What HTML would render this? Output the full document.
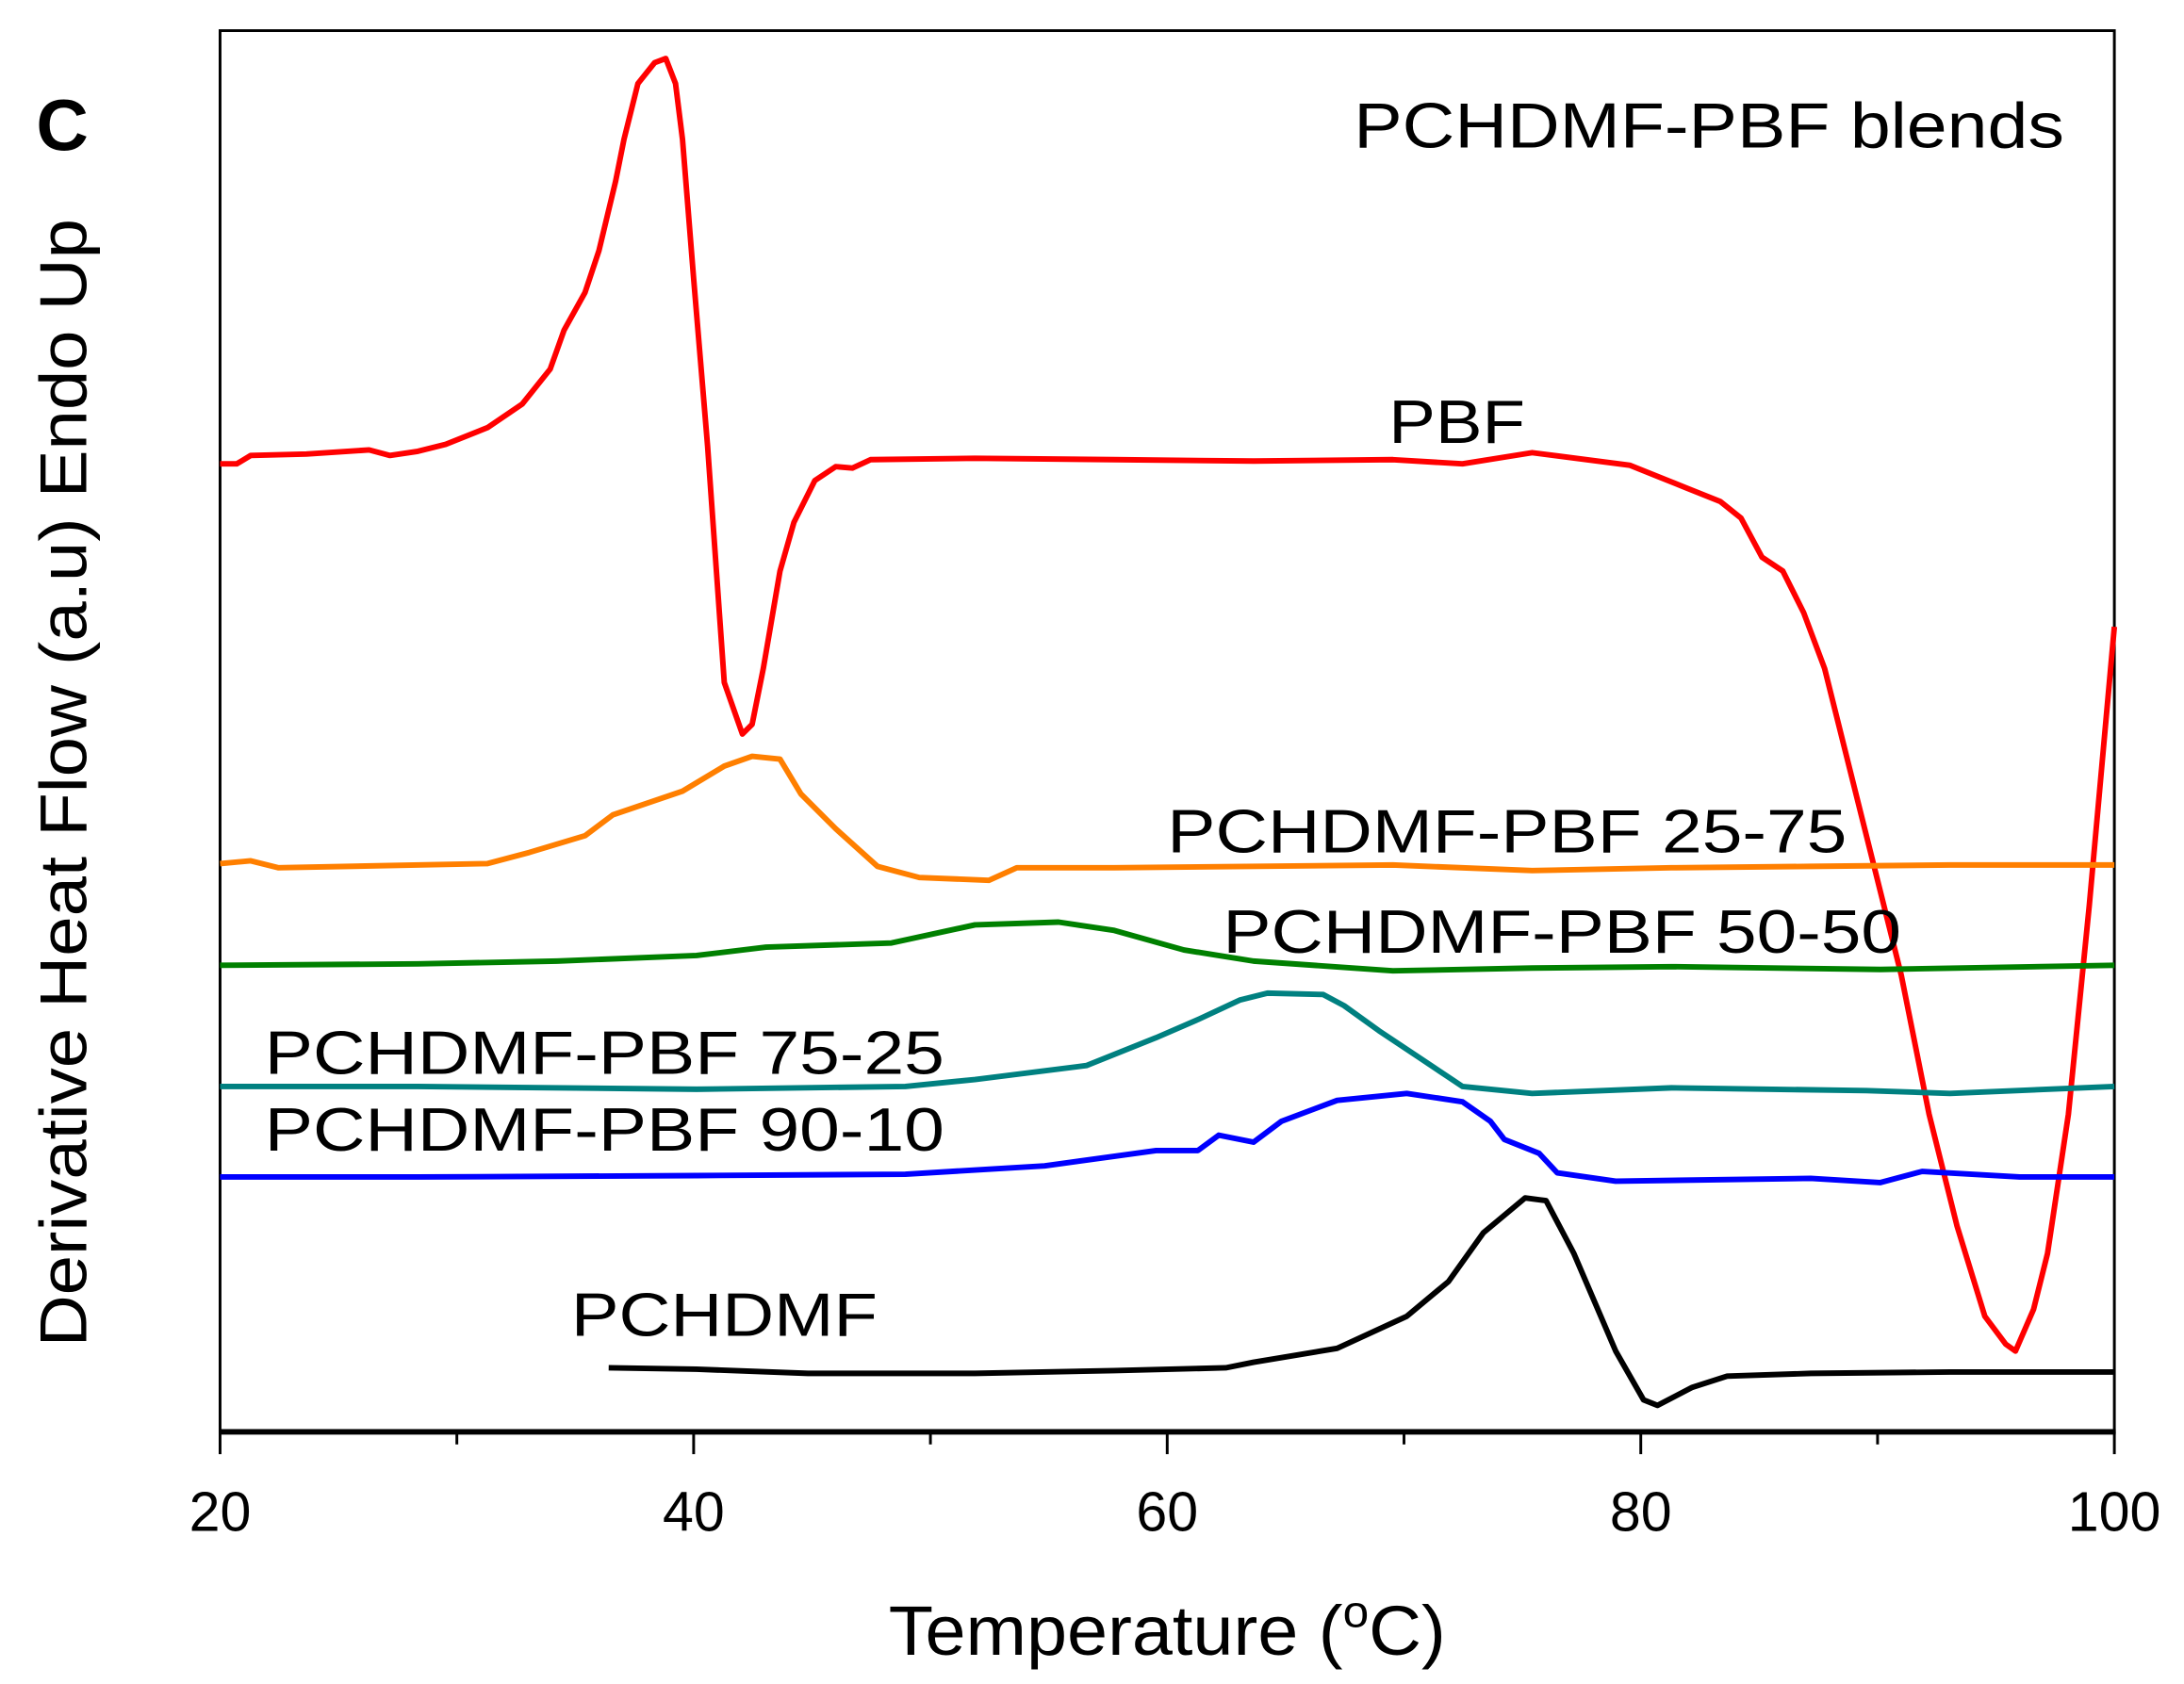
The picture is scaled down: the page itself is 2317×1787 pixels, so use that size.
<!DOCTYPE html>
<html><head><style>html,body{margin:0;padding:0;background:#fff}svg{display:block}</style></head>
<body>
<svg width="2317" height="1787" viewBox="0 0 1568 1209" preserveAspectRatio="none" xmlns="http://www.w3.org/2000/svg" font-family="Liberation Sans, Arial, sans-serif">
<rect x="158" y="22" width="1360" height="1006" fill="none" stroke="#000" stroke-width="2"/>
<line x1="157" y1="1028" x2="1519" y2="1028" stroke="#000" stroke-width="4"/>
<g stroke="#000" stroke-width="2">
<line x1="158" y1="1028" x2="158" y2="1044"/><line x1="328" y1="1028" x2="328" y2="1037"/>
<line x1="498" y1="1028" x2="498" y2="1044"/><line x1="668" y1="1028" x2="668" y2="1037"/>
<line x1="838" y1="1028" x2="838" y2="1044"/><line x1="1008" y1="1028" x2="1008" y2="1037"/>
<line x1="1178" y1="1028" x2="1178" y2="1044"/><line x1="1348" y1="1028" x2="1348" y2="1037"/>
<line x1="1518" y1="1028" x2="1518" y2="1044"/>
</g>
<g font-size="40" text-anchor="middle">
<text x="158" y="1099">20</text><text x="498" y="1099">40</text><text x="838" y="1099">60</text><text x="1178" y="1099">80</text><text x="1518" y="1099">100</text>
</g>
<text x="638" y="1188" font-size="50" textLength="400" lengthAdjust="spacingAndGlyphs">Temperature (<tspan font-size="32" dy="-20">o</tspan><tspan dy="20">C)</tspan></text>
<text transform="translate(62,562) rotate(-90)" font-size="48" text-anchor="middle" textLength="810" lengthAdjust="spacingAndGlyphs">Derivative Heat Flow (a.u) Endo Up</text>
<text x="26" y="108" font-size="52" font-weight="bold">C</text>
<text x="972" y="106" font-size="46" textLength="510" lengthAdjust="spacingAndGlyphs">PCHDMF-PBF blends</text>
<g fill="none" stroke-width="4" stroke-linejoin="round">
<polyline stroke="#ff0000" points="158,333 170,333 180,327 220,326 265,323 280,327 300,324 320,319 350,307 375,290 395,265 405,237 420,210 430,180 442,130 448,100 458,60 470,45 478,42 485,60 490,100 498,200 508,320 520,490 533,527 540,520 548,480 560,410 570,375 585,345 600,335 612,336 625,330 700,329 800,330 900,331 1000,330 1050,333 1100,325 1170,334 1210,350 1235,360 1250,372 1265,400 1280,410 1295,440 1310,480 1325,540 1345,620 1365,700 1385,800 1405,880 1425,945 1440,965 1447,970 1460,940 1470,900 1485,800 1500,650 1518,450"/>
<polyline stroke="#ff7f00" points="158,620 180,618 200,623 350,620 380,612 420,600 440,585 490,568 520,550 540,543 560,545 575,570 600,595 630,622 660,630 710,632 730,623 800,623 1000,621 1100,625 1200,623 1300,622 1400,621 1518,621"/>
<polyline stroke="#008000" points="158,693 300,692 400,690 500,686 550,680 640,677 700,664 760,662 800,668 850,682 900,690 1000,697 1100,695 1200,694 1350,696 1518,693"/>
<polyline stroke="#008080" points="158,780 300,780 500,782 650,780 700,775 780,765 830,745 860,732 890,718 910,713 950,714 965,722 990,740 1020,760 1050,780 1100,785 1200,781 1340,783 1400,785 1518,780"/>
<polyline stroke="#0000ff" points="158,845 300,845 500,844 650,843 750,837 830,826 860,826 875,815 900,820 920,805 960,790 1010,785 1050,791 1070,805 1080,818 1105,828 1118,842 1160,848 1300,846 1350,849 1380,841 1450,845 1518,845"/>
<polyline stroke="#000000" points="437,982 500,983 580,986 700,986 800,984 880,982 900,978 960,968 1010,945 1040,920 1065,885 1095,860 1110,862 1130,900 1160,970 1180,1005 1190,1009 1215,996 1240,988 1300,986 1400,985 1518,985"/>
</g>
<g font-size="44">
<text x="997" y="318" textLength="98" lengthAdjust="spacingAndGlyphs">PBF</text>
<text x="838" y="612" textLength="488" lengthAdjust="spacingAndGlyphs">PCHDMF-PBF 25-75</text>
<text x="878" y="684" textLength="487" lengthAdjust="spacingAndGlyphs">PCHDMF-PBF 50-50</text>
<text x="190" y="771" textLength="488" lengthAdjust="spacingAndGlyphs">PCHDMF-PBF 75-25</text>
<text x="190" y="826" textLength="488" lengthAdjust="spacingAndGlyphs">PCHDMF-PBF 90-10</text>
<text x="410" y="959" textLength="220" lengthAdjust="spacingAndGlyphs">PCHDMF</text>
</g>
</svg>
</body></html>
